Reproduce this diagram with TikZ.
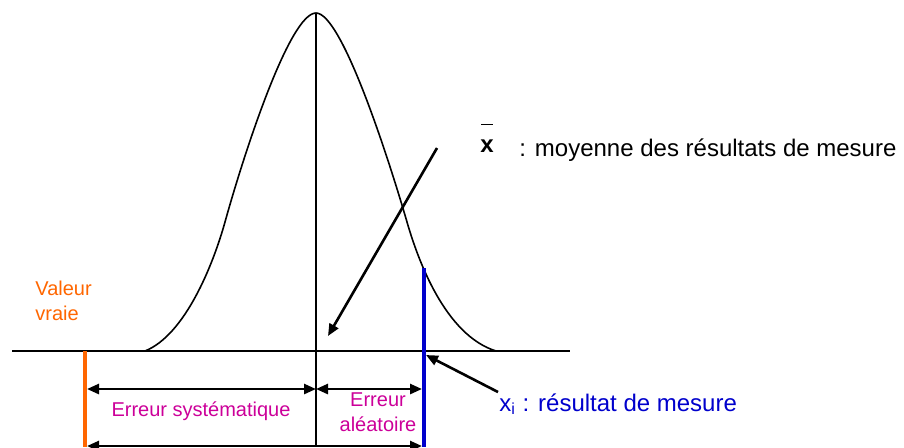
\documentclass[tikz,border=0pt]{standalone}
\usepackage{fontspec}
\setmainfont{Liberation Sans}
\usetikzlibrary{arrows.meta, positioning}
\definecolor{valorange}{HTML}{FF6600}
\definecolor{errmagenta}{HTML}{CC0099}
\definecolor{mesblue}{HTML}{0000CC}

\begin{document}
\begin{tikzpicture}[
    x=0.5pt, y=-0.5pt,
    >={Triangle[length=6pt,width=5pt]},
    axis/.style={line width=0.8pt},
    marker/.style={line width=2pt},
    pointer/.style={->, line width=1.3pt},
    span/.style={<->, line width=1.3pt},
    errlabel/.style={font=\fontsize{10}{12.5}\selectfont, text=errmagenta,
                     align=center, inner sep=0pt},
    legend/.style={font=\fontsize{12}{14}\selectfont, inner sep=0pt, anchor=west}
]
\useasboundingbox (0,0) rectangle (904,447);

% points on the axis
\coordinate (axisL) at (12,351);
\coordinate (axisR) at (570,351);
\coordinate (true) at (85,351);
\coordinate (trueLow) at (85,447);
\coordinate (peak) at (316,13);
\coordinate (meanLow) at (316,447);
\coordinate (measTop) at (424,268);
\coordinate (measLow) at (424,447);

% the bell curve
\draw[axis] (145,351) .. controls (185,335) and (213,265) .. (225,222)
    .. controls (245,150) and (290,13) .. (peak)
    .. controls (342,13) and (389,160) .. (407,222)
    .. controls (418,260) and (445,335) .. (496,351);

\draw[axis] (axisL) -- (axisR);
\draw[axis] (peak) -- (meanLow);
\draw[marker, valorange] (true) -- (trueLow);
\draw[marker, mesblue] (measTop) -- (measLow);

% the two errors
\coordinate (sysL) at (87,389);
\coordinate (sysR) at (316,389);
\coordinate (aleR) at (422,389);
\coordinate (totL) at (87,446);
\coordinate (totR) at (422,446);
\draw[span] (sysL) -- (sysR);
\draw[span] (sysR) -- (aleR);
\draw[span] (totL) -- (totR);

\node[errlabel] (sys) at (201,411) {Erreur systématique};
\node[errlabel] (ale) at (378,412) {Erreur\\aléatoire};
\node[font=\fontsize{10}{12.5}\selectfont, text=valorange, align=left,
      anchor=north west, inner sep=0pt] (vraie) at (35,281) {Valeur\\vraie};

% legends
\node[inner sep=0pt, align=center, font=\fontsize{12}{12}\selectfont\bfseries]
    (xbar) at (487,138) {\rule{6pt}{0.7pt}\\[1.5pt]x};
\node[legend] (moy) at (519,150) {: moyenne des résultats de mesure};
\node[legend, text=mesblue] (xi) at (499,404) {x\textsubscript{i} : résultat de mesure};

\coordinate (meanTail) at (437,148);
\coordinate (meanTip) at (328,336);
\coordinate (measTail) at (498,392);
\coordinate (measTip) at (426,355);
\draw[pointer] (meanTail) -- (meanTip);
\draw[pointer] (measTail) -- (measTip);
\end{tikzpicture}
\end{document}
